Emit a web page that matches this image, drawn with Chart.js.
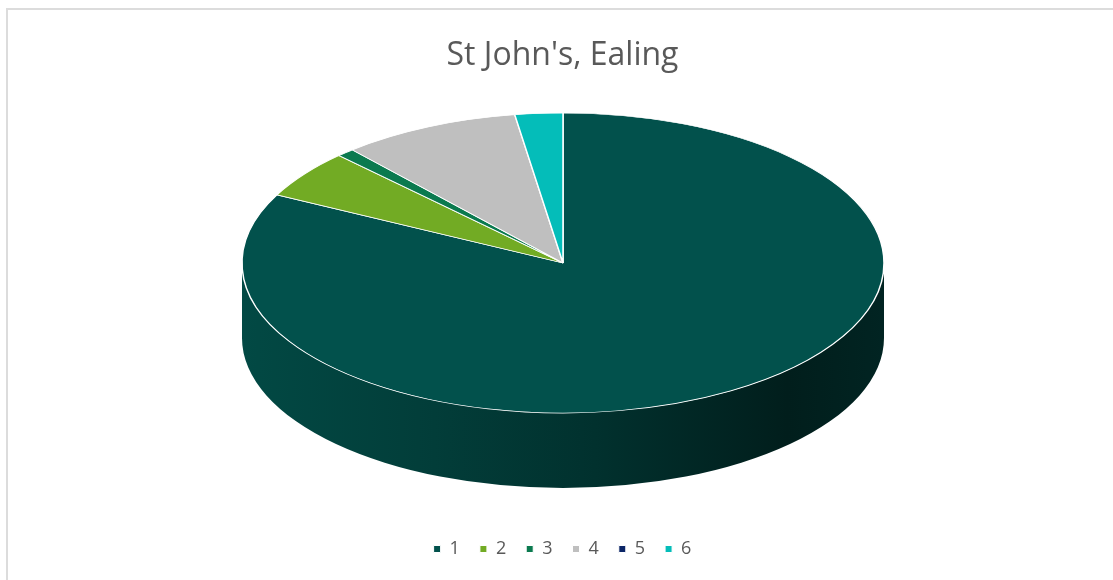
<!DOCTYPE html>
<html>
<head>
<meta charset="utf-8">
<script src="https://cdn.jsdelivr.net/npm/chart.js@4.4.1/dist/chart.umd.min.js"></script>
<style>
html,body{margin:0;padding:0;background:#fff;}
#wrap{width:1113px;height:580px;position:relative;}
</style>
</head>
<body>
<div id="wrap"><canvas id="c" width="1113" height="580"></canvas></div>
<script>
// ---- data ----
const categories = ['1', '2', '3', '4', '5', '6'];
const values = [82.5, 5.2, 0.9, 9.0, 0, 2.4];
const sliceColors = ['#02514c', '#72ab24', '#0b7a4f', '#bfbfbf', '#0b2566', '#04bdb9'];
const chartTitle = "St John's, Ealing";

// ---- 3D view geometry (screen space) ----
const VIEW = { cx: 563, cy: 263, rx: 321, ry: 150, depth: 75 };

function shade(hex, f) {
  const n = parseInt(hex.slice(1), 16);
  const r = Math.round(((n >> 16) & 255) * f);
  const g = Math.round(((n >> 8) & 255) * f);
  const b = Math.round((n & 255) * f);
  return 'rgb(' + r + ',' + g + ',' + b + ')';
}

const pie3d = {
  id: 'pie3d',
  beforeDraw(chart) {
    const ctx = chart.ctx;
    ctx.save();
    ctx.fillStyle = '#ffffff';
    ctx.fillRect(0, 0, chart.width, chart.height);
    ctx.strokeStyle = '#dcdcdc';
    ctx.lineWidth = 2;
    ctx.beginPath();
    ctx.moveTo(7, chart.height);
    ctx.lineTo(7, 9);
    ctx.lineTo(chart.width, 9);
    ctx.stroke();
    ctx.restore();
  },
  beforeDatasetsDraw(chart) {
    const meta = chart.getDatasetMeta(0);
    const arcs = meta.data;
    const ctx = chart.ctx;
    ctx.save();
    chart.$pie3dSaved = true;
    if (!arcs.length) return;
    const a0 = arcs[0];
    const r = a0.outerRadius, x0 = a0.x, y0 = a0.y;
    const sx = VIEW.rx / r, sy = VIEW.ry / r;
    ctx.translate(VIEW.cx, VIEW.cy);
    ctx.scale(sx, sy);
    ctx.translate(-x0, -y0);
    const d = VIEW.depth / sy;
    const TAU = Math.PI * 2;
    arcs.forEach((arc, i) => {
      const s = arc.startAngle, e = arc.endAngle;
      if (e - s <= 0) return;
      const col = sliceColors[i % sliceColors.length];
      const grad = ctx.createLinearGradient(x0 - r, 0, x0 + r, 0);
      grad.addColorStop(0, shade(col, 0.9));
      grad.addColorStop(0.3, shade(col, 0.75));
      grad.addColorStop(0.55, shade(col, 0.6));
      grad.addColorStop(0.85, shade(col, 0.37));
      grad.addColorStop(1, shade(col, 0.45));
      for (let k = -1; k <= 1; k++) {
        const lo = Math.max(s, TAU * k), hi = Math.min(e, TAU * k + Math.PI);
        if (hi > lo) {
          ctx.beginPath();
          ctx.moveTo(x0 + r * Math.cos(lo), y0 + r * Math.sin(lo));
          ctx.arc(x0, y0, r, lo, hi, false);
          ctx.lineTo(x0 + r * Math.cos(hi), y0 + d + r * Math.sin(hi));
          ctx.arc(x0, y0 + d, r, hi, lo, true);
          ctx.closePath();
          ctx.fillStyle = grad;
          ctx.fill();
        }
      }
    });
  },
  afterDatasetsDraw(chart) {
    if (chart.$pie3dSaved) { chart.ctx.restore(); chart.$pie3dSaved = false; }
  }
};

new Chart(document.getElementById('c'), {
  type: 'pie',
  data: {
    labels: categories,
    datasets: [{
      data: values,
      backgroundColor: sliceColors,
      borderColor: '#ffffff',
      borderWidth: 1,
      clip: false
    }]
  },
  options: {
    responsive: false,
    animation: false,
    devicePixelRatio: 1,
    layout: { padding: { top: 0, bottom: 12, left: 12, right: 0 } },
    plugins: {
      title: {
        display: true,
        text: chartTitle,
        color: '#595959',
        font: { family: 'Open Sans', size: 32, weight: 'normal' },
        padding: { top: 37, bottom: 20 }
      },
      legend: {
        position: 'bottom',
        labels: {
          boxWidth: 7,
          boxHeight: 7,
          color: '#595959',
          font: { family: 'Open Sans', size: 18 },
          padding: 20
        }
      },
      tooltip: { enabled: false }
    }
  },
  plugins: [pie3d]
});
</script>
</body>
</html>
